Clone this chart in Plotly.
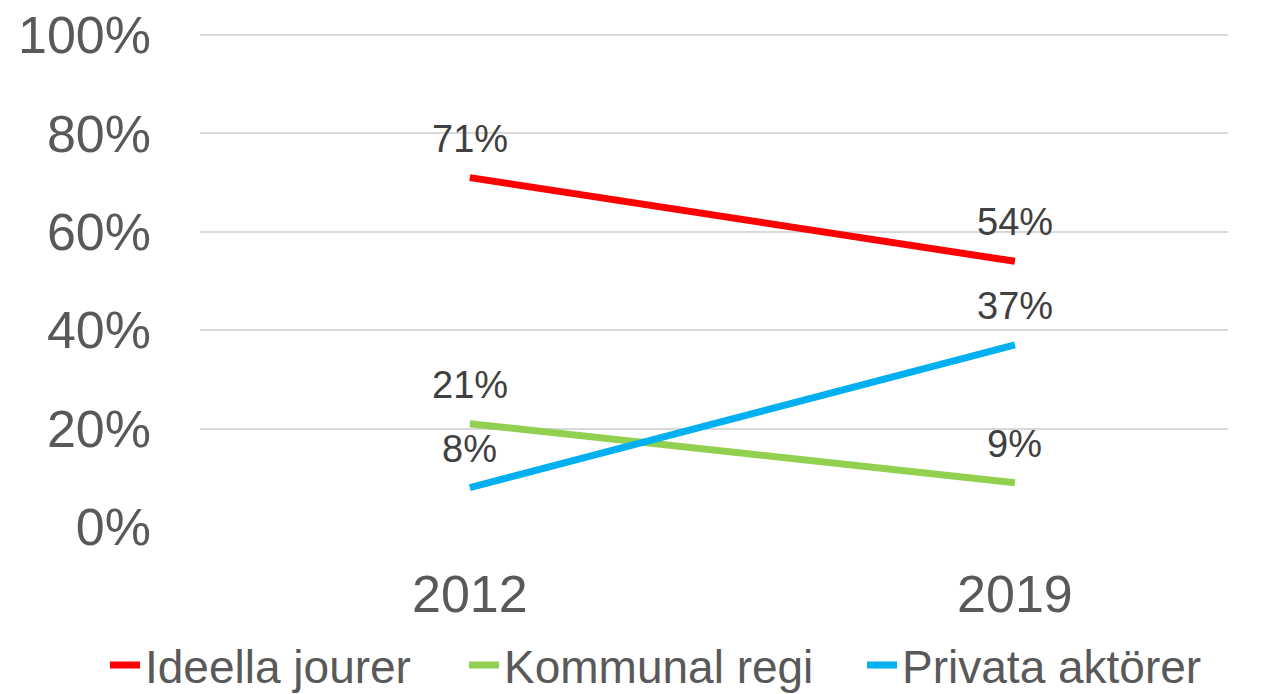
import plotly.graph_objects as go

years = ["2012", "2019"]
series_names = ["Ideella jourer", "Kommunal regi", "Privata aktörer"]
ideella = [71, 54]
kommunal = [21, 9]
privata = [8, 37]
colors = ["#FF0000", "#92D050", "#00B0F0"]
y_ticks = [0, 20, 40, 60, 80, 100]
y_tick_labels = ["0%", "20%", "40%", "60%", "80%", "100%"]
legend_ids = ["legend", "legend2", "legend3"]
legend_x = [0.0762, 0.3582, 0.6709]

fig = go.Figure()
annotations = []
for name, vals, col, lg in zip(series_names, [ideella, kommunal, privata], colors, legend_ids):
    fig.add_trace(go.Scatter(
        x=[0, 1], y=vals, mode="lines", name=name, legend=lg,
        line=dict(color=col, width=7), cliponaxis=False,
    ))
    for i, v in enumerate(vals):
        annotations.append(dict(
            x=i, y=v, xref="x", yref="y", text=f"{v}%", showarrow=False,
            yshift=39, font=dict(size=38, color="#404040", family="Liberation Sans, Arial"),
        ))

legend_style = dict(
    orientation="h", xref="container", yref="container",
    xanchor="left", y=0.053, yanchor="middle",
    font=dict(size=46, color="#595959", family="Liberation Sans, Arial"),
    itemwidth=30, bgcolor="rgba(0,0,0,0)",
)

fig.update_layout(
    width=1273, height=694,
    margin=dict(l=192, r=53, t=25, b=175, autoexpand=False),
    paper_bgcolor="white", plot_bgcolor="white",
    font=dict(family="Liberation Sans, Arial", color="#595959"),
    annotations=annotations,
    showlegend=True,
    legend=dict(x=legend_x[0], **legend_style),
    legend2=dict(x=legend_x[1], **legend_style),
    legend3=dict(x=legend_x[2], **legend_style),
    xaxis=dict(
        range=[-0.495, 1.391], tickmode="array", tickvals=[0, 1], ticktext=years,
        showgrid=False, zeroline=False, showline=False, automargin=False,
        tickfont=dict(size=52, color="#595959"), ticks="", ticklabelstandoff=32,
    ),
    yaxis=dict(
        range=[0, 100.4], tickmode="array", tickvals=y_ticks, ticktext=y_tick_labels,
        showgrid=True, gridcolor="#D9D9D9", gridwidth=1.5, zeroline=False, showline=False,
        automargin=False, ticklabeloverflow="allow",
        tickfont=dict(size=52, color="#595959"), ticks="", ticklabelstandoff=48,
    ),
)

fig.write_html("out.html")
